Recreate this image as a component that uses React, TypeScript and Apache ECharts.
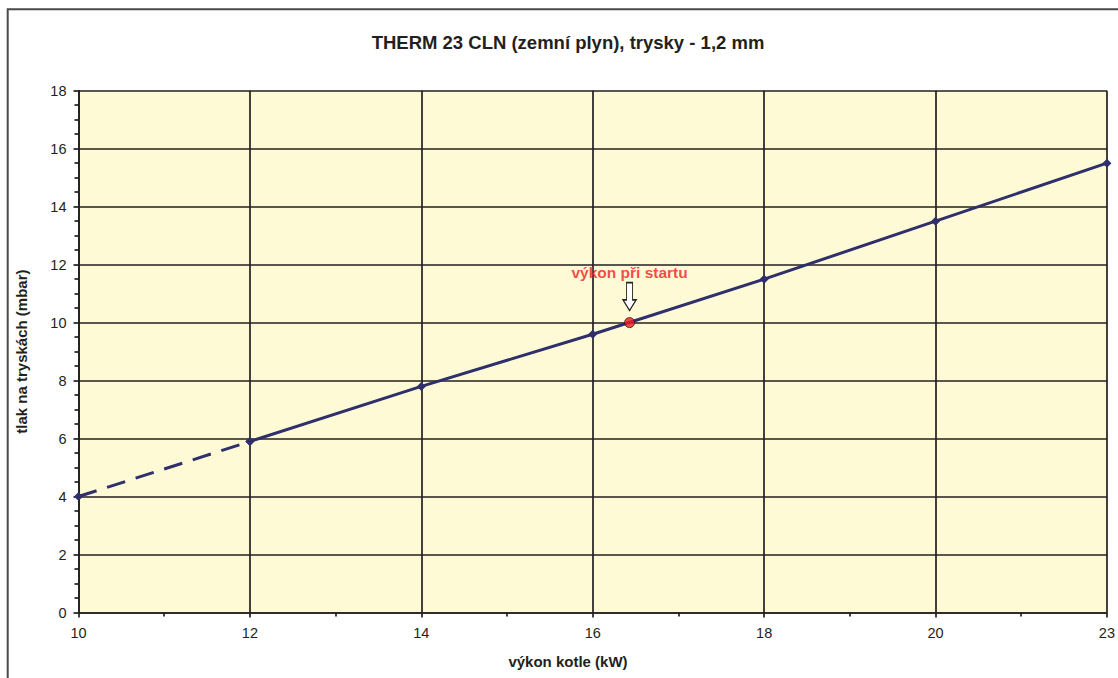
import React, { useEffect, useRef } from "react";
import * as echarts from "echarts";

const categories = ["10", "12", "14", "16", "18", "20", "23"];
const pressure = [4, 5.9, 7.8, 9.6, 11.5, 13.5, 15.5];
const dashedUntil = 1; // index where the dashed (extrapolated) part ends
const startPos = 3.215; // position of start power on the category scale (between 16 and 18)
const startPressure = 10;
const titleText = "THERM 23 CLN (zemní plyn), trysky - 1,2 mm";
const xName = "výkon kotle (kW)";
const yName = "tlak na tryskách (mbar)";
const startLabel = "výkon při startu";

const FONT = "'Liberation Sans', Arial, sans-serif";
const INK = "#231f20";
const NAVY = "#2e2f6b";

export default function App() {
  const ref = useRef<HTMLDivElement>(null);

  useEffect(() => {
    if (!ref.current) return;
    const chart = echarts.init(ref.current, undefined, { renderer: "svg" });

    const dashedData = pressure.map((v, i) => (i <= dashedUntil ? [i, v] : [i, null]));
    const solidData = pressure.map((v, i) => (i >= dashedUntil ? [i, v] : [i, null]));

    const lineW = 1.7;

    chart.setOption({
      animation: false,
      backgroundColor: "#ffffff",
      textStyle: { fontFamily: FONT },
      grid: {
        left: 78.5,
        right: 11,
        top: 90.7,
        bottom: 65.5,
        show: true,
        backgroundColor: "#fffad6",
        borderWidth: 0,
      },
      graphic: [
        {
          type: "rect",
          shape: { x: 7.7, y: 9.3, width: 1400, height: 1000 },
          style: { fill: "none", stroke: "#4a4a4a", lineWidth: 2 },
          silent: true,
        },
        {
          type: "text",
          x: 568,
          y: 42,
          style: {
            text: titleText,
            font: `bold 18.5px ${FONT}`,
            fill: INK,
            textAlign: "center",
            textVerticalAlign: "middle",
          },
        },
        {
          type: "text",
          x: 568,
          y: 661,
          style: {
            text: xName,
            font: `bold 15px ${FONT}`,
            fill: INK,
            textAlign: "center",
            textVerticalAlign: "middle",
          },
        },
      ],
      xAxis: {
        type: "value",
        min: 0,
        max: categories.length - 1,
        interval: 1,
        axisLine: { show: true, lineStyle: { color: INK, width: lineW } },
        axisTick: { show: true, length: 5, lineStyle: { color: INK, width: lineW } },
        minorTick: { show: true, splitNumber: 2, length: 4, lineStyle: { color: INK, width: lineW } },
        splitLine: { show: true, lineStyle: { color: INK, width: lineW } },
        axisLabel: {
          margin: 13,
          fontSize: 14.5,
          color: INK,
          fontFamily: FONT,
          formatter: (v: number) => categories[Math.round(v)] ?? "",
        },
      },
      yAxis: {
        type: "value",
        min: 0,
        max: 18,
        interval: 2,
        name: yName,
        nameLocation: "middle",
        nameGap: 50,
        nameTextStyle: { fontSize: 15, fontWeight: "bold", color: INK, fontFamily: FONT },
        axisLine: { show: true, lineStyle: { color: INK, width: lineW } },
        axisTick: { show: true, length: 5, lineStyle: { color: INK, width: lineW } },
        minorTick: { show: true, splitNumber: 4, length: 4, lineStyle: { color: INK, width: lineW } },
        splitLine: { show: true, lineStyle: { color: INK, width: lineW } },
        axisLabel: { margin: 12, fontSize: 14.5, color: INK, fontFamily: FONT },
      },
      series: [
        {
          type: "line",
          data: dashedData,
          symbol: "diamond",
          symbolSize: 9,
          showAllSymbol: true,
          connectNulls: false,
          itemStyle: { color: NAVY },
          lineStyle: { color: NAVY, width: 3, type: [19, 11] },
          z: 3,
        },
        {
          type: "line",
          data: solidData,
          symbol: "diamond",
          symbolSize: 9,
          showAllSymbol: true,
          connectNulls: false,
          itemStyle: { color: NAVY },
          lineStyle: { color: NAVY, width: 3 },
          z: 3,
        },
        {
          type: "scatter",
          data: [[startPos, startPressure]],
          symbol: "circle",
          symbolSize: 10,
          itemStyle: { color: "#ee1c24", borderColor: "#3a1010", borderWidth: 1 },
          label: {
            show: true,
            position: "top",
            distance: 37,
            formatter: startLabel,
            color: "#ec1c24",
            fontWeight: "bold",
            fontSize: 15.5,
            fontFamily: FONT,
          },
          markPoint: {
            silent: true,
            data: [{ coord: [startPos, startPressure] }],
            symbol: "path://M3.5,0 L9.5,0 L9.5,17 L13,17 L6.5,27.5 L0,17 L3.5,17 Z",
            symbolSize: [13, 28],
            symbolOffset: [0, -26],
            symbolKeepAspect: false,
            itemStyle: { color: "#ffffff", borderColor: "#222222", borderWidth: 1.3 },
            label: { show: false },
          },
          z: 5,
        },
      ],
    });

    return () => chart.dispose();
  }, []);

  return (
    <div
      ref={ref}
      style={{ position: "fixed", left: 0, top: 0, width: 1118, height: 678 }}
    />
  );
}
